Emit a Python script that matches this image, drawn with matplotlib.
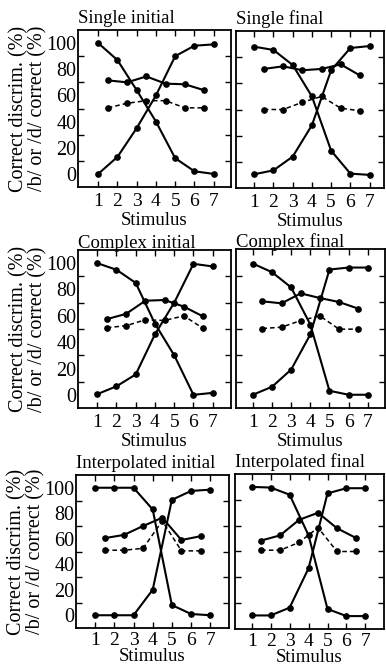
import matplotlib
matplotlib.use("Agg")
import matplotlib.pyplot as plt

stimuli = [1, 2, 3, 4, 5, 6, 7]
pairs = [1.5, 2.5, 3.5, 4.5, 5.5, 6.5]
titles = ["Single initial", "Single final", "Complex initial",
          "Complex final", "Interpolated initial", "Interpolated final"]

b_single_initial = [100, 87, 64, 40, 12, 2, 0]
d_single_initial = [0, 13, 35, 60, 90, 98, 99]
disc_single_initial = [71.5, 70, 74.5, 69, 68.5, 64]
pred_single_initial = [50.5, 54, 56, 56, 50.5, 50.5]

b_single_final = [98, 95.5, 84, 60, 18.5, 1, 0]
d_single_final = [0.5, 3.5, 14, 38, 80, 97, 98.5]
disc_single_final = [81, 83, 80, 81, 84.5, 76]
pred_single_final = [50, 50, 55.5, 60, 51, 49]

b_complex_initial = [100, 95, 85, 54, 30, 0, 1.5]
d_complex_initial = [0.5, 6.5, 15.5, 46, 70, 99.5, 97.5]
disc_complex_initial = [57.5, 61.5, 71.5, 72, 67, 59.5]
pred_complex_initial = [51, 52.5, 57, 56.5, 60, 50.5]

b_complex_final = [99, 92.5, 81, 53, 3, 0, 0]
d_complex_final = [0, 6, 19, 45.5, 94.5, 96, 96]
disc_complex_final = [70.5, 69, 76.5, 73, 70, 65]
pred_complex_final = [50, 51, 56, 59.5, 49.5, 49.5]

b_interp_initial = [100, 100, 100, 83, 8, 1, 0]
d_interp_initial = [0, 0, 0, 20, 90.5, 97.5, 98.5]
disc_interp_initial = [60.5, 63, 70, 76.5, 59, 62]
pred_interp_initial = [51, 51, 52.5, 74, 50.5, 50.5]

b_interp_final = [100, 99.5, 94, 62.5, 5.5, 0, 0]
d_interp_final = [0.5, 0.5, 6.5, 37, 95, 99, 99]
disc_interp_final = [58.5, 62.5, 74.5, 80, 68, 60.5]
pred_interp_final = [51, 51, 57, 68.5, 50, 50]

panels = [
    (b_single_initial, d_single_initial, disc_single_initial, pred_single_initial),
    (b_single_final, d_single_final, disc_single_final, pred_single_final),
    (b_complex_initial, d_complex_initial, disc_complex_initial, pred_complex_initial),
    (b_complex_final, d_complex_final, disc_complex_final, pred_complex_final),
    (b_interp_initial, d_interp_initial, disc_interp_initial, pred_interp_initial),
    (b_interp_final, d_interp_final, disc_interp_final, pred_interp_final),
]

plt.rcParams['font.family'] = ['Liberation Serif', 'DejaVu Serif']
W, H = 386, 669
fig = plt.figure(figsize=(W / 100, H / 100), dpi=100)

# pixel boxes (left, top, right, bottom)
boxes = [
    (78, 30, 231, 187), (236, 31, 384, 188),
    (78, 250, 231, 408), (236, 249, 385, 408),
    (76, 475, 229, 628), (235, 474, 384, 629),
]
xlims = [(-0.05, 7.9), (0.05, 7.75), (0.0, 7.95), (0.12, 7.9), (0.0, 7.98), (0.12, 7.98)]
title_pads = [5, 5, 1.5, 1.5, 5, 5]
tick_pads = [4, 4, 4, 4, 3, 3]
xlabel_pads = [2, 2, 2, 2, -1, -1]

for i, (box, data) in enumerate(zip(boxes, panels)):
    l, t, r, btm = box
    ax = fig.add_axes([l / W, 1 - btm / H, (r - l) / W, (btm - t) / H])
    b, d, disc, pred = data
    kw = dict(color='black', marker='o', markersize=3.8, lw=1.5)
    ax.plot(stimuli, b, **kw)
    ax.plot(stimuli, d, **kw)
    ax.plot(pairs, disc, **kw)
    ax.plot(pairs, pred, color='black', marker='o', markersize=3.8, lw=1.1,
            linestyle=(0, (3, 2)))
    ax.set_xlim(*xlims[i])
    ax.set_ylim(-10, 110)
    ax.set_xticks(stimuli)
    ax.set_xticklabels([str(s) for s in stimuli], fontsize=14)
    ax.tick_params(axis='x', direction='in', top=True, bottom=True, length=4,
                   width=1, pad=tick_pads[i])
    ax.set_yticks([0, 20, 40, 60, 80, 100])
    ax.set_yticks([10, 30, 50, 70, 90], minor=True)
    ax.tick_params(axis='y', which='major', length=0, pad=1, labelsize=14.5)
    ax.tick_params(axis='y', which='minor', direction='in', left=True,
                   right=True, length=4, width=1)
    if i % 2 == 1:
        ax.set_yticklabels([])
    else:
        ax.set_ylabel("Correct discrim. (%)\n/b/ or /d/ correct (%)",
                      fontsize=14.5, linespacing=0.98, labelpad=-1)
    ax.set_xlabel("Stimulus", fontsize=13.5, labelpad=xlabel_pads[i])
    ax.set_title(titles[i], loc='left', fontsize=13.5, pad=title_pads[i])
    for s in ax.spines.values():
        s.set_linewidth(1.3)

fig.savefig("out.png", dpi=100)
